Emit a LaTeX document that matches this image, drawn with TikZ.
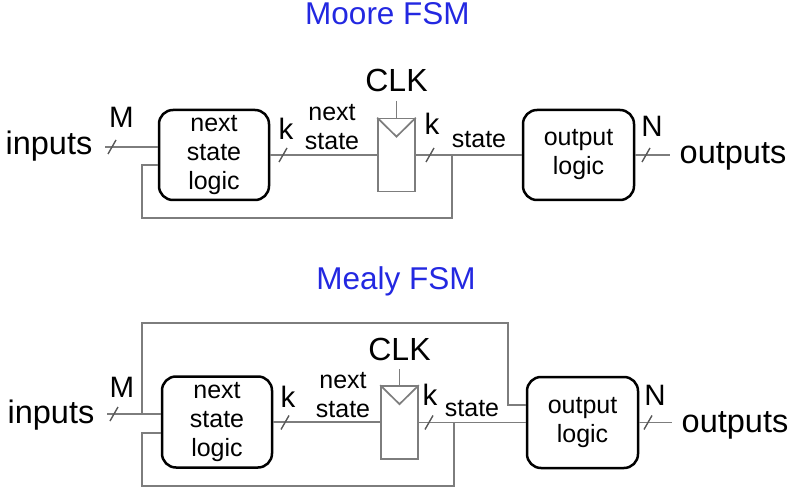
\documentclass[tikz,border=0pt]{standalone}
\usepackage{fontspec}
\setmainfont{Liberation Sans}
\usetikzlibrary{calc}
\definecolor{wiregray}{RGB}{125,125,125}
\definecolor{titleblue}{RGB}{35,40,225}
\begin{document}
\begin{tikzpicture}[x=1pt,y=-1pt,
  wire/.style={draw=wiregray, line width=1.7pt},
  slashst/.style={draw=wiregray!70!black, line width=1.4pt},
  logicbox/.style={draw=black, line width=2.5pt, rounded corners=14pt,
    minimum width=110pt, minimum height=90pt, align=center,
    font=\fontsize{25}{29}\selectfont, inner sep=0pt},
  regbox/.style={draw=wiregray, line width=1.7pt, minimum width=37pt,
    minimum height=73pt, inner sep=0pt},
  big/.style={font=\fontsize{32.5}{36}\selectfont, anchor=base, inner sep=0pt},
  midlabel/.style={font=\fontsize{25}{29}\selectfont, inner sep=0pt, align=center},
  midbase/.style={font=\fontsize{25}{29}\selectfont, inner sep=0pt, anchor=base},
  wlabel/.style={font=\fontsize{29.5}{32}\selectfont, anchor=base, inner sep=0pt},
  clklabel/.style={font=\fontsize{32}{35}\selectfont, anchor=base, inner sep=0pt},
  title/.style={font=\fontsize{31.5}{36}\selectfont, text=titleblue, anchor=base, inner sep=0pt}]
\newcommand\busslash[1]{\draw[slashst] ($(#1)+(-4,7)$) -- ($(#1)+(4,-7)$);}
\useasboundingbox (0,0) rectangle (800,494);

% ================= Moore FSM =================
\node[title] (t1) at (387.5,25) {Moore FSM};
\node[logicbox] (nsl1) at (214,155) {next\\state\\logic};
\node[regbox] (reg1) at (396.5,155) {};
\node[logicbox, minimum width=111pt] (out1) at (578.5,155) {output\\logic};

\node[big] (inl1) at (49,155) {inputs};
\node[big] (outl1) at (733,164) {outputs};
\node[wlabel] (m1) at (121.5,128) {M};
\node[wlabel] (ka1) at (286,140) {k};
\node[midlabel] (ns1) at (332,127) {next\\state};
\node[wlabel] (kb1) at (432,135) {k};
\node[midbase] (st1) at (479,148) {state};
\node[wlabel] (n1) at (652,137) {N};
\node[clklabel] (clk1) at (396.5,92) {CLK};

\coordinate (in1) at (105,147);
\coordinate (outend1) at (670,155);
\coordinate (fb1) at (452,155);
\coordinate (fbc1) at (142,218);
\coordinate (clkw1) at (396.5,101);

\draw[wire] (in1) -- (in1 -| nsl1.west);
\draw[wire] (nsl1.east) -- (reg1.west);
\draw[wire] (reg1.east) -- (out1.west);
\draw[wire] (out1.east) -- (outend1);
\draw[wire] (fb1) |- (fbc1) |- ($(nsl1.west)+(0,10)$);
\draw[wire] (clkw1) -- (reg1.north);
\draw[wire] (reg1.north west) -- ($(reg1.north)+(0,19)$) -- (reg1.north east);

\coordinate (s1a) at (112,147);
\coordinate (s1b) at (283,155);
\coordinate (s1c) at (430,155);
\coordinate (s1d) at (646,155);
\busslash{s1a}\busslash{s1b}\busslash{s1c}\busslash{s1d}

% ================= Mealy FSM =================
\node[title] (t2) at (396,290) {Mealy FSM};
\node[logicbox, minimum height=91pt] (nsl2) at (217,422) {next\\state\\logic};
\node[regbox] (reg2) at (399.5,422.5) {};
\node[logicbox, minimum width=111pt, minimum height=91pt] (out2) at (582.5,422.5) {output\\logic};

\node[big] (inl2) at (51,423) {inputs};
\node[big] (outl2) at (735,432) {outputs};
\node[wlabel] (m2) at (122,397) {M};
\node[wlabel] (ka2) at (288,407) {k};
\node[midlabel] (ns2) at (343,395) {next\\state};
\node[wlabel] (kb2) at (430,405) {k};
\node[midbase] (st2) at (472,416) {state};
\node[wlabel] (n2) at (655,405) {N};
\node[clklabel] (clk2) at (399.5,360) {CLK};

\coordinate (in2) at (107,414);
\coordinate (jn2) at (142,414);
\coordinate (byp2) at (508,323);
\coordinate (outend2) at (672,422.5);
\coordinate (fb2) at (454,422.5);
\coordinate (fbc2) at (142,486);
\coordinate (clkw2) at (399.5,369);

\draw[wire] (in2) -- (in2 -| nsl2.west);
\draw[wire] (jn2) |- (byp2) |- ($(out2.west)+(0,-17.5)$);
\draw[wire] (nsl2.east) -- (nsl2.east -| reg2.west);
\draw[wire] (reg2.east) -- (out2.west);
\draw[wire] (out2.east) -- (outend2);
\draw[wire] (fb2) |- (fbc2) |- ($(nsl2.west)+(0,11)$);
\draw[wire] (clkw2) -- (reg2.north);
\draw[wire] (reg2.north west) -- ($(reg2.north)+(0,19)$) -- (reg2.north east);

\coordinate (s2a) at (114,414);
\coordinate (s2b) at (285,422.5);
\coordinate (s2c) at (429,422.5);
\coordinate (s2d) at (648,422.5);
\busslash{s2a}\busslash{s2b}\busslash{s2c}\busslash{s2d}
\end{tikzpicture}
\end{document}
